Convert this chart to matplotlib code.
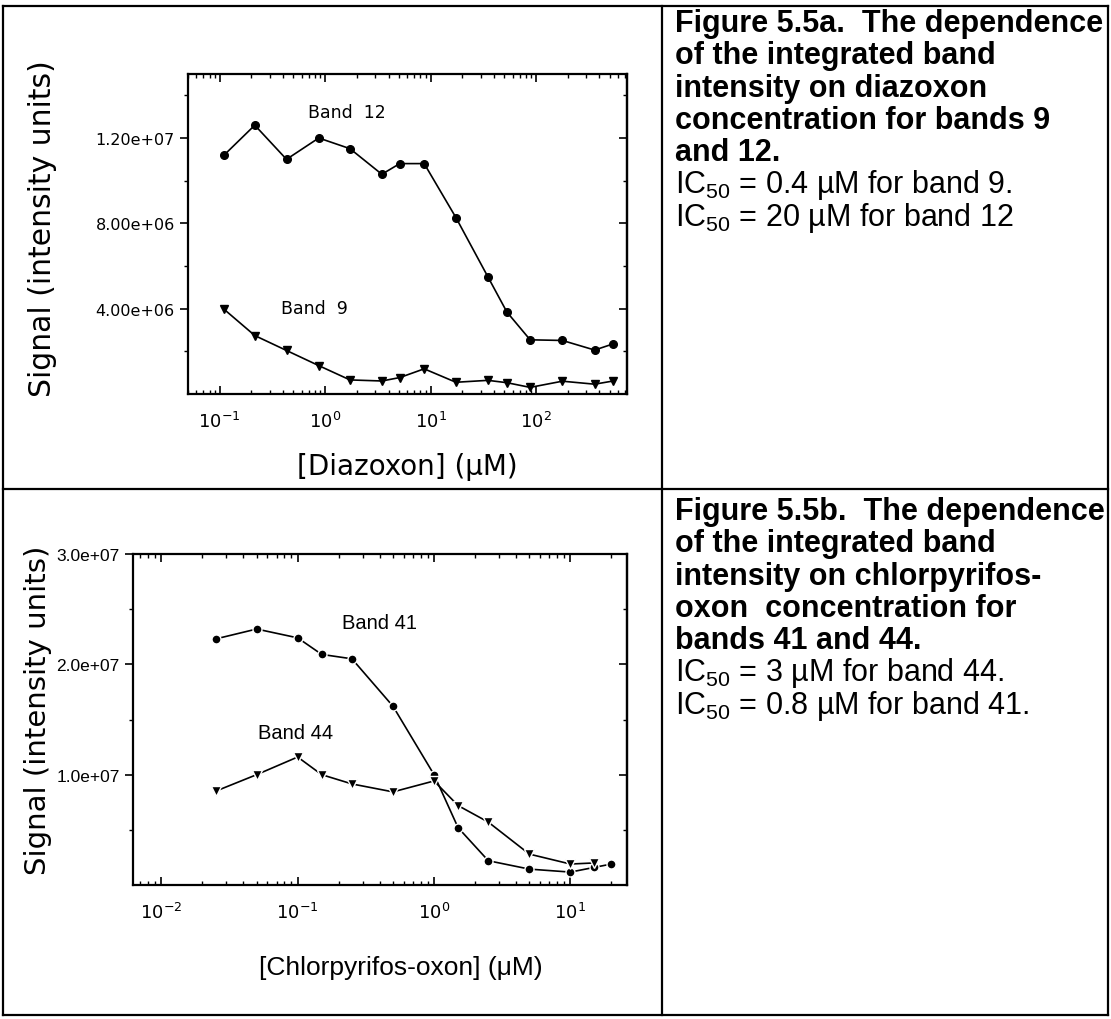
import matplotlib
matplotlib.use("Agg")
import matplotlib.pyplot as plt
from matplotlib.ticker import FixedLocator, LogLocator, NullFormatter, FuncFormatter
from matplotlib.lines import Line2D

# ---------------- data ----------------
diazoxon_conc = [0.11, 0.215, 0.43, 0.87, 1.72, 3.45, 5.1, 8.7, 17.4, 35, 53, 88, 178, 360, 540]
band12 = [11.2e6, 12.6e6, 11.0e6, 12.0e6, 11.5e6, 10.3e6, 10.8e6, 10.8e6,
          8.27e6, 5.49e6, 3.84e6, 2.54e6, 2.51e6, 2.06e6, 2.35e6]
band9 = [3.97e6, 2.74e6, 2.04e6, 1.33e6, 0.66e6, 0.61e6, 0.77e6, 1.18e6,
         0.55e6, 0.64e6, 0.53e6, 0.31e6, 0.60e6, 0.46e6, 0.61e6]

cpo_conc = [0.025, 0.05, 0.1, 0.15, 0.25, 0.5, 1.0, 1.5, 2.5, 5, 10, 15, 20]
band41 = [2.23e7, 2.32e7, 2.24e7, 2.09e7, 2.05e7, 1.62e7, 1.0e7, 0.52e7,
          0.22e7, 0.144e7, 0.117e7, 0.16e7, 0.19e7]
band44_conc = cpo_conc[:12]
band44 = [0.85e7, 1.0e7, 1.16e7, 1.0e7, 0.916e7, 0.844e7, 0.943e7, 0.72e7,
          0.57e7, 0.28e7, 0.19e7, 0.20e7]

yticks_a = [4e6, 8e6, 12e6]
yminor_a = [2e6, 6e6, 10e6, 14e6]
yticks_b = [1e7, 2e7, 3e7]
yminor_b = [5e6, 1.5e7, 2.5e7]

caption_a = ["Figure 5.5a.  The dependence", "of the integrated band",
             "intensity on diazoxon", "concentration for bands 9", "and 12."]
ic50_a = ["IC$_{50}$ = 0.4 µM for band 9.", "IC$_{50}$ = 20 µM for band 12"]
caption_b = ["Figure 5.5b.  The dependence", "of the integrated band",
             "intensity on chlorpyrifos-", "oxon  concentration for", "bands 41 and 44."]
ic50_b = ["IC$_{50}$ = 3 µM for band 44.", "IC$_{50}$ = 0.8 µM for band 41."]

# ---------------- style ----------------
plt.rcParams['font.family'] = ['DejaVu Sans']
plt.rcParams['axes.unicode_minus'] = False
plt.rcParams['mathtext.fontset'] = 'custom'
plt.rcParams['mathtext.rm'] = 'Liberation Sans'
plt.rcParams['mathtext.it'] = 'Liberation Sans:italic'
plt.rcParams['mathtext.bf'] = 'Liberation Sans:bold'

W, H = 1111, 1020
fig = plt.figure(figsize=(W / 100, H / 100), dpi=100)


def px_axes(l, t, r, b):
    return fig.add_axes([l / W, 1 - b / H, (r - l) / W, (b - t) / H])


def fx(x):
    return x / W


def fy(y):
    return 1 - y / H


# table lines
lw_tab = 1.6
DIV_Y = 490
for (x0, y0, x1, y1) in [(3, 7, 1108, 7), (3, 1016, 1108, 1016), (3, 7, 3, 1016),
                         (1108, 7, 1108, 1016), (662, 7, 662, 1016), (3, DIV_Y, 1108, DIV_Y)]:
    fig.add_artist(Line2D([fx(x0), fx(x1)], [fy(y0), fy(y1)], color='black', lw=lw_tab))


def style_axes(ax, yt, ym, fmt, xmajor, ylab_size, ylab_family):
    ax.set_xscale('log')
    for s in ax.spines.values():
        s.set_linewidth(1.6)
    ax.xaxis.set_major_locator(FixedLocator(xmajor))
    ax.xaxis.set_minor_locator(LogLocator(base=10, subs=range(2, 10), numticks=20))
    ax.xaxis.set_minor_formatter(NullFormatter())
    ax.yaxis.set_major_locator(FixedLocator(yt))
    ax.yaxis.set_minor_locator(FixedLocator(ym))
    ax.yaxis.set_major_formatter(FuncFormatter(lambda v, p: fmt % v))
    ax.tick_params(axis='x', which='both', direction='in', top=True, bottom=True,
                   labelsize=13, pad=12)
    ax.tick_params(axis='x', which='major', length=6, width=1.2)
    ax.tick_params(axis='x', which='minor', length=3, width=1)
    ax.tick_params(axis='y', which='both', direction='out', left=True, right=False,
                   labelsize=ylab_size)
    ax.tick_params(axis='y', which='major', length=6, width=1.2)
    ax.tick_params(axis='y', which='minor', length=3, width=1)
    for lab in ax.get_yticklabels():
        lab.set_family(ylab_family)
    sec = ax.secondary_yaxis('right')
    sec.set_yticks(yt)
    sec.set_yticks(ym, minor=True)
    sec.tick_params(which='both', direction='in', labelright=False)
    sec.tick_params(which='major', length=6, width=1.2)
    sec.tick_params(which='minor', length=3, width=1)
    sec.spines['right'].set_linewidth(1.6)


# ---------------- top chart ----------------
ax1 = px_axes(188, 75, 627, 395)
style_axes(ax1, yticks_a, yminor_a, '%.2e', [0.1, 1, 10, 100], 11.5, 'DejaVu Sans')
ax1.set_xlim(0.05, 730)
ax1.set_ylim(0, 1.5e7)
ax1.plot(diazoxon_conc, band12, color='black', lw=1.2, marker='o', ms=5.5)
ax1.plot(diazoxon_conc, band9, color='black', lw=1.2, marker='v', ms=5.5)
ax1.text(1.6, 13.2e6, 'Band  12', fontsize=12.5, ha='center', va='center')
ax1.text(0.8, 4.05e6, 'Band  9', fontsize=12.5, ha='center', va='center')
ax1.set_xlabel('[Diazoxon] (\u03bcM)', fontsize=20)
ax1.xaxis.set_label_coords(0.5, -72 / 320)
ax1.xaxis.label.set_va('center')
ax1.set_ylabel('Signal (intensity units)', fontsize=21.5)
ax1.yaxis.set_label_coords(-145 / 439, 0.52)
ax1.yaxis.label.set_va('center')

# ---------------- bottom chart ----------------
ax2 = px_axes(133, 555, 627, 886)
style_axes(ax2, yticks_b, yminor_b, '%.1e', [0.01, 0.1, 1, 10], 12.5, 'Liberation Sans')
ax2.set_xlim(0.0062, 26)
ax2.set_ylim(0, 3e7)
for lab in ax2.get_yticklabels():
    lab.set_family('Liberation Sans')
ax2.plot(cpo_conc, band41, color='black', lw=1.2, marker='o', ms=6.5,
         markeredgecolor='white', markeredgewidth=1.0, markerfacecolor='black')
ax2.plot(band44_conc, band44, color='black', lw=1.2, marker='v', ms=7,
         markeredgecolor='white', markeredgewidth=1.0, markerfacecolor='black')
ax2.text(0.4, 2.38e7, 'Band 41', fontsize=14.5, family='Liberation Sans',
         ha='center', va='center')
ax2.text(0.0966, 1.38e7, 'Band 44', fontsize=14.5, family='Liberation Sans',
         ha='center', va='center')
ax2.set_xlabel('[Chlorpyrifos-oxon] (\u03bcM)', fontsize=19, family='Liberation Sans')
ax2.xaxis.set_label_coords((401 - 133) / 494, -82 / 331)
ax2.xaxis.label.set_va('center')
ax2.set_ylabel('Signal (intensity units)', fontsize=21)
ax2.yaxis.set_label_coords(-95 / 494, 0.53)
ax2.yaxis.label.set_va('center')

# ---------------- captions ----------------
cap_fs = 22
x_txt = 675
step = 32.3
for i, line in enumerate(caption_a + ic50_a):
    bold = i < len(caption_a)
    fig.text(fx(x_txt), fy(32 + i * step), line, fontsize=cap_fs,
             family='Liberation Sans', weight='bold' if bold else 'normal',
             va='baseline', ha='left')
for i, line in enumerate(caption_b + ic50_b):
    bold = i < len(caption_b)
    fig.text(fx(x_txt), fy(DIV_Y + 30 + i * step), line, fontsize=cap_fs,
             family='Liberation Sans', weight='bold' if bold else 'normal',
             va='baseline', ha='left')

fig.savefig('out.png', dpi=100)
